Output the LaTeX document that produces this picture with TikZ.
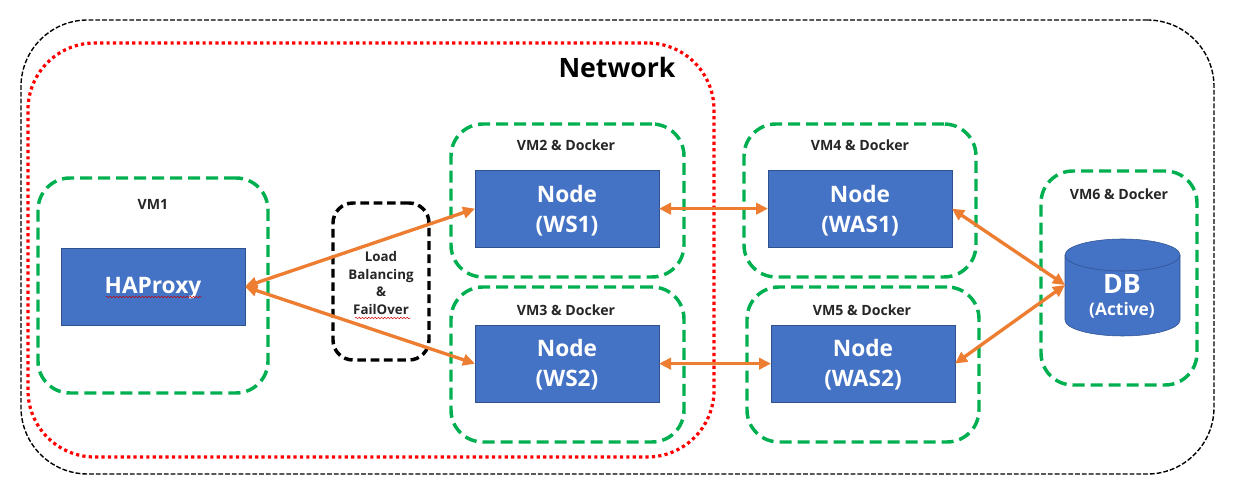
\documentclass[tikz,border=0pt]{standalone}
\usepackage{fontspec}
\setmainfont{Open Sans}
\usetikzlibrary{arrows.meta,decorations.pathmorphing}
\definecolor{gr}{HTML}{00B050}
\definecolor{bl}{HTML}{4472C4}
\definecolor{blb}{HTML}{2F528F}
\definecolor{og}{HTML}{ED7D31}
\tikzset{x=0.75pt,y=-0.75pt,outer sep=0pt,
 vmbox/.style={draw=gr,line width=2.6pt,dash pattern=on 9pt off 4.5pt,rounded corners=24pt,anchor=north west,inner sep=0pt},
 procbox/.style={draw=blb,line width=0.5pt,fill=bl,anchor=north west,inner sep=0pt,minimum width=138pt,minimum height=58pt},
 proctext/.style={text=white,font=\fontsize{17}{22.5}\selectfont\bfseries,align=center},
 lbl/.style={font=\fontsize{10.6}{12}\selectfont\bfseries,text=black!85,inner sep=0pt},
 link/.style={draw=og,line width=2.5pt,{Triangle[length=9pt,width=8.5pt]}-{Triangle[length=9pt,width=8.5pt]},shorten >=0pt,shorten <=0pt},
 squig/.style={draw=red!80!black,line width=0.35pt,decorate,decoration={snake,amplitude=0.55pt,segment length=2.4pt}}
}
\begin{document}
\begin{tikzpicture}
\useasboundingbox (0,0) rectangle (1246,498);
\fill[white] (0,0) rectangle (1246,498);
% containers
\node[draw=black,line width=1.05pt,dash pattern=on 3.6pt off 1.5pt,rounded corners=50pt,anchor=north west,inner sep=0pt,minimum width=894.75pt,minimum height=340.5pt] (outer) at (21,20) {};
\node[draw=red,line width=2.4pt,dash pattern=on 2.4pt off 2.4pt,rounded corners=50pt,anchor=north west,inner sep=0pt,minimum width=514.5pt,minimum height=310.5pt] (net) at (28,43) {};
\node[font=\fontsize{20}{24}\selectfont\bfseries,text=black,inner sep=0pt] (nettext) at (617,68) {Network};
% VMs
\node[vmbox,minimum width=172.5pt,minimum height=161.25pt] (vm1) at (38,178) {};
\node[vmbox,minimum width=174.75pt,minimum height=114.75pt] (vm2) at (451,124) {};
\node[vmbox,minimum width=174.75pt,minimum height=116.25pt] (vm3) at (451,287) {};
\node[vmbox,minimum width=174pt,minimum height=114.75pt] (vm4) at (744,124) {};
\node[vmbox,minimum width=174pt,minimum height=116.25pt] (vm5) at (747,287) {};
\node[vmbox,minimum width=117pt,minimum height=160.5pt] (vm6) at (1041,171) {};
\node[draw=black,line width=2.6pt,dash pattern=on 6.5pt off 3.5pt,rounded corners=15pt,anchor=north west,inner sep=0pt,minimum width=72pt,minimum height=117.75pt] (lb) at (333,203) {};
% labels
\node[lbl] (l1) at (153,204) {VM1};
\node[lbl] (l2) at (566,145) {VM2 \& Docker};
\node[lbl] (l3) at (566,310) {VM3 \& Docker};
\node[lbl] (l4) at (860,145) {VM4 \& Docker};
\node[lbl] (l5) at (862,310) {VM5 \& Docker};
\node[lbl] (l6) at (1119,194) {VM6 \& Docker};
\node[lbl,align=center,font=\fontsize{10}{13.4}\selectfont\bfseries] (lbt) at (381,283) {Load\\Balancing\\\&\\FailOver};
% process boxes
\node[procbox] (ha) at (61,248) {};
\node[procbox] (ws1) at (475,170) {};
\node[procbox] (ws2) at (475,325) {};
\node[procbox] (was1) at (768,170) {};
\node[procbox] (was2) at (771,325) {};
\node[proctext] (hat) at (153,288) {HAProxy};
\node[proctext] (ws1t) at (567,211) {Node\\(WS1)};
\node[proctext] (ws2t) at (567,365) {Node\\(WS2)};
\node[proctext] (was1t) at (860,211) {Node\\(WAS1)};
\node[proctext] (was2t) at (863,365) {Node\\(WAS2)};
% spell-check squiggles
\draw[squig] (106,297) -- (202,297);
\draw[squig] (355,318) -- (411,318);
% database
\path[draw=blb,line width=0.4pt,fill=bl] (1065,255) arc[x radius=57.5,y radius=16,start angle=180,end angle=360] -- (1180,320) arc[x radius=57.5,y radius=16,start angle=0,end angle=180] -- cycle;
\draw[blb,line width=0.4pt] (1065,255) arc[x radius=57.5,y radius=16,start angle=180,end angle=0];
\node[inner sep=0pt,minimum width=86.25pt,minimum height=72.75pt] (db) at (1122.5,285) {};
\node[text=white,font=\fontsize{20}{24}\selectfont\bfseries,inner sep=0pt] (dbt) at (1122,284) {DB};
\node[text=white,font=\fontsize{13}{16}\selectfont\bfseries,inner sep=0pt] (dbs) at (1122,310) {(Active)};
% connectors
\draw[link] (ha.east) -- (ws1.west);
\draw[link] (ha.east) -- (ws2.west);
\draw[link] (ws1.east) -- (was1.west);
\draw[link] (ws2.east) -- (was2.west);
\draw[link] (was1.east) -- (db.west);
\draw[link] (was2.east) -- (db.west);
\end{tikzpicture}
\end{document}
